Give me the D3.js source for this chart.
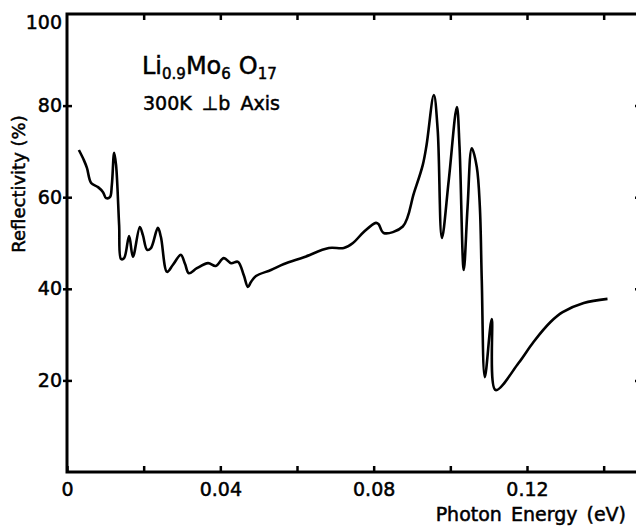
<!DOCTYPE html>
<html>
<head>
<meta charset="utf-8">
<script src="https://cdn.jsdelivr.net/npm/d3@7"></script>
<style>
  body { margin: 0; background: #fff; }
  svg { font-family: "DejaVu Sans", sans-serif; }
  svg text { stroke: #000; stroke-width: 0.5px; }
</style>
</head>
<body>
<svg width="636" height="527"></svg>
<script>
// photon energy (eV) and reflectivity (%)
var energy = [0.0031, 0.0044, 0.0052, 0.0063, 0.0081, 0.0094, 0.0102, 0.0112, 0.0117, 0.0123,
    0.0128, 0.0136, 0.0141, 0.0149, 0.0162, 0.0172, 0.0190, 0.0198, 0.0209, 0.0219,
    0.0237, 0.0245, 0.0261, 0.0276, 0.0297, 0.0308, 0.0318, 0.0339, 0.0368, 0.0388,
    0.0409, 0.0428, 0.0446, 0.0461, 0.0472, 0.0480, 0.0493, 0.0532, 0.0566, 0.0618,
    0.0683, 0.0722, 0.0746, 0.0774, 0.0806, 0.0813, 0.0826, 0.0876, 0.0905,
    0.0928, 0.0938, 0.0957, 0.0967, 0.0978, 0.0996, 0.1017, 0.1024, 0.1035, 0.1045,
    0.1056, 0.1069, 0.1077, 0.1082, 0.1090, 0.1108, 0.1118, 0.1178, 0.1217, 0.1262,
    0.1293, 0.1348, 0.1410];
var reflectivity = [70.3, 68.1, 66.4, 63.1, 62.2, 61.1, 59.8, 60.0, 62.7, 69.7,
    67.0, 53.9, 46.5, 46.7, 51.5, 47.0, 53.5, 51.7, 48.5, 48.9,
    53.3, 51.3, 43.7, 45.2, 47.4, 45.4, 43.4, 44.5, 45.6, 45.0,
    46.7, 45.6, 45.9, 43.0, 40.4, 41.5, 42.8, 44.1, 45.4, 46.9,
    48.9, 48.9, 50.0, 52.4, 54.4, 54.1, 52.2, 53.6, 60.9,
    67.0, 71.4, 82.3, 74.7, 51.1, 63.8, 79.7, 71.0, 44.1, 57.9,
    70.7, 66.6, 57.9, 41.9, 20.7, 33.4, 17.9, 23.8, 28.4, 32.8,
    34.9, 36.9, 37.8];

var xTicks = [0, 0.02, 0.04, 0.06, 0.08, 0.10, 0.12, 0.14];
var xLabels = [0, 0.04, 0.08, 0.12];
var yTicks = [20, 40, 60, 80];
var yLabels = [20, 40, 60, 80, 100];

var svg = d3.select("svg");
var pLeft = 67, pRight = 642, pTop = 14, pBottom = 472;

var x = d3.scaleLinear().domain([0, 0.15]).range([pLeft, pRight]);
var y = d3.scaleLinear().domain([0, 100]).range([pBottom, pTop]);

// frame
svg.append("rect")
    .attr("x", pLeft).attr("y", pTop)
    .attr("width", pRight - pLeft).attr("height", pBottom - pTop)
    .attr("fill", "none").attr("stroke", "#000").attr("stroke-width", 3);

// bottom axis: inward ticks, labels every other tick
var gB = svg.append("g")
    .attr("transform", `translate(0,${pBottom})`)
    .call(d3.axisBottom(x).tickValues(xTicks).tickSizeInner(-6).tickSizeOuter(0)
        .tickFormat(d => xLabels.some(v => Math.abs(v - d) < 1e-9) ? (d === 0 ? "0" : d3.format(".2f")(d)) : ""));
gB.select(".domain").remove();
gB.selectAll(".tick line").attr("stroke-width", 2.5);
gB.selectAll(".tick text").attr("y", 24).attr("dy", 0)
    .attr("font-size", 19).attr("font-family", "DejaVu Sans").attr("fill", "#000");

// top axis ticks
var gT = svg.append("g")
    .attr("transform", `translate(0,${pTop})`)
    .call(d3.axisTop(x).tickValues(xTicks.slice(1)).tickSizeInner(-6).tickSizeOuter(0).tickFormat(""));
gT.select(".domain").remove();
gT.selectAll(".tick line").attr("stroke-width", 2.5);

// left axis: ticks crossing the line
var gL = svg.append("g")
    .attr("transform", `translate(${pLeft},0)`)
    .call(d3.axisLeft(y).tickValues(yLabels).tickSizeInner(4).tickSizeOuter(0));
gL.select(".domain").remove();
gL.selectAll(".tick line").attr("x1", 5).attr("stroke-width", 2.5)
    .filter(d => d === 100).remove();
gL.selectAll(".tick text").attr("x", -5)
    .attr("font-size", 19).attr("font-family", "DejaVu Sans").attr("fill", "#000");
gL.selectAll(".tick text").filter(d => d === 100).attr("dy", "0.75em");

// right axis ticks (inward)
var gR = svg.append("g")
    .attr("transform", `translate(${pRight},0)`)
    .call(d3.axisRight(y).tickValues(yTicks).tickSizeInner(-7).tickSizeOuter(0).tickFormat(""));
gR.select(".domain").remove();
gR.selectAll(".tick line").attr("stroke-width", 2.5);

// axis titles
svg.append("text")
    .attr("transform", "translate(25,184) rotate(-90)")
    .attr("text-anchor", "middle")
    .attr("font-size", 18)
    .text("Reflectivity (%)");

svg.append("text")
    .attr("x", 626).attr("y", 521)
    .attr("text-anchor", "end")
    .attr("font-size", 19)
    .attr("word-spacing", 3)
    .text("Photon Energy (eV)");

// annotation
var t1 = svg.append("text").attr("x", 142).attr("y", 74).attr("font-size", 24);
t1.append("tspan").text("Li");
t1.append("tspan").attr("font-size", 15).attr("dy", 5).text("0.9");
t1.append("tspan").attr("dy", -5).text("Mo");
t1.append("tspan").attr("font-size", 15).attr("dy", 5).text("6");
t1.append("tspan").attr("dy", -5).attr("dx", 8).text("O");
t1.append("tspan").attr("font-size", 15).attr("dy", 5).text("17");

svg.append("text")
    .attr("x", 143).attr("y", 110)
    .attr("font-size", 19)
    .attr("word-spacing", 4)
    .text("300K \u22A5b Axis");

// reflectivity curve
var data = energy.map((e, i) => ({e: e, r: reflectivity[i]}));
var line = d3.line()
    .curve(d3.curveCatmullRom.alpha(0.5))
    .x(d => x(d.e))
    .y(d => y(d.r));
svg.append("path")
    .attr("fill", "none")
    .attr("stroke", "#000")
    .attr("stroke-width", 2.6)
    .attr("stroke-linejoin", "round")
    .attr("d", line(data));
</script>
</body>
</html>
